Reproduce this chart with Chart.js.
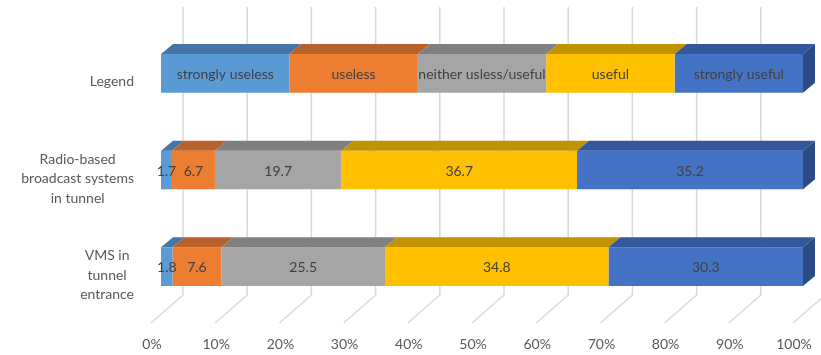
<!DOCTYPE html>
<html>
<head>
<meta charset="utf-8">
<script src="https://cdn.jsdelivr.net/npm/chart.js@4.4.1/dist/chart.umd.min.js"></script>
<style>
  html, body { margin: 0; padding: 0; background: #ffffff; }
  #wrap { width: 821px; height: 355px; position: relative; }
</style>
</head>
<body>
<div id="wrap"><canvas id="ratingChart"></canvas></div>
<script>
const categories = ["Legend", "Radio-based broadcast systems in tunnel", "VMS in tunnel entrance"];
const categoryLines = [
  ["Legend"],
  ["Radio-based", "broadcast systems", "in tunnel"],
  ["VMS in", "tunnel", "entrance"],
];
const seriesNames = ["strongly useless", "useless", "neither usless/useful", "useful", "strongly useful"];

// first row is the legend strip, equal parts
const stronglyUseless = [20, 1.7, 1.8];
const useless = [20, 6.7, 7.6];
const neither = [20, 19.7, 25.5];
const useful = [20, 36.7, 34.8];
const stronglyUseful = [20, 35.2, 30.3];

const tickValues = [0, 10, 20, 30, 40, 50, 60, 70, 80, 90, 100];

const frontColors = ["#5b9bd5", "#ed7d31", "#a5a5a5", "#ffc000", "#4472c4"];
const topColors = ["#4676a5", "#b9612a", "#808080", "#c29300", "#33579a"];
const sideColor = "#2c4a84";

const FONT = "Lato, 'Open Sans', sans-serif";
const DEPTH_X = 12;
const DEPTH_Y = 10;

function formatValue(value) {
  return value.toFixed(1);
}

// back wall, floor and category labels
const backdropPlugin = {
  id: "backdrop",
  beforeDatasetsDraw(chart) {
    const ctx = chart.ctx;
    const xScale = chart.scales.x;
    const area = chart.chartArea;
    ctx.save();
    ctx.strokeStyle = "#d9d9d9";
    ctx.lineWidth = 1.5;
    tickValues.forEach((value) => {
      const x = xScale.getPixelForValue(value);
      ctx.beginPath();
      ctx.moveTo(x + 22, area.top - 18);
      ctx.lineTo(x + 22, area.bottom - 20);
      ctx.lineTo(x - 10, area.bottom + 8);
      ctx.stroke();
    });

    const yScale = chart.scales.y;
    ctx.fillStyle = "#595959";
    ctx.font = `14px ${FONT}`;
    ctx.textAlign = "center";
    ctx.textBaseline = "middle";
    const rightEdge = 134;
    const lineHeight = 19.5;
    categoryLines.forEach((lines, index) => {
      const blockWidth = Math.max(...lines.map((line) => ctx.measureText(line).width));
      const centerX = rightEdge - blockWidth / 2;
      const centerY = yScale.getPixelForValue(index) + 8.5;
      const firstY = centerY - ((lines.length - 1) * lineHeight) / 2;
      lines.forEach((line, lineIndex) => {
        ctx.fillText(line, centerX, firstY + lineIndex * lineHeight);
      });
    });
    ctx.restore();
  },
  afterDatasetsDraw(chart) {
    const ctx = chart.ctx;
    const lastIndex = chart.data.datasets.length - 1;
    ctx.save();

    // top faces, drawn left to right so each one overlaps the previous
    chart.data.datasets.forEach((dataset, datasetIndex) => {
      const meta = chart.getDatasetMeta(datasetIndex);
      meta.data.forEach((bar) => {
        const left = Math.min(bar.base, bar.x);
        const right = Math.max(bar.base, bar.x);
        const top = bar.y - bar.height / 2;
        ctx.fillStyle = topColors[datasetIndex];
        ctx.beginPath();
        ctx.moveTo(left, top);
        ctx.lineTo(right, top);
        ctx.lineTo(right + DEPTH_X, top - DEPTH_Y);
        ctx.lineTo(left + DEPTH_X, top - DEPTH_Y);
        ctx.closePath();
        ctx.fill();

        if (datasetIndex === lastIndex) {
          const bottom = bar.y + bar.height / 2;
          ctx.fillStyle = sideColor;
          ctx.beginPath();
          ctx.moveTo(right, top);
          ctx.lineTo(right + DEPTH_X, top - DEPTH_Y);
          ctx.lineTo(right + DEPTH_X, bottom - DEPTH_Y);
          ctx.lineTo(right, bottom);
          ctx.closePath();
          ctx.fill();
        }
      });
    });

    // value labels in the middle of each segment
    ctx.fillStyle = "#404040";
    ctx.font = `14px ${FONT}`;
    ctx.textAlign = "center";
    ctx.textBaseline = "middle";
    chart.data.datasets.forEach((dataset, datasetIndex) => {
      const meta = chart.getDatasetMeta(datasetIndex);
      meta.data.forEach((bar, rowIndex) => {
        const text = rowIndex === 0 ? seriesNames[datasetIndex] : formatValue(dataset.data[rowIndex]);
        ctx.fillText(text, (bar.base + bar.x) / 2, bar.y + 1);
      });
    });
    ctx.restore();
  },
};

function buildDatasets() {
  const values = [stronglyUseless, useless, neither, useful, stronglyUseful];
  return values.map((data, index) => ({
    label: seriesNames[index],
    data,
    backgroundColor: frontColors[index],
    borderWidth: 0,
    categoryPercentage: 1,
    barPercentage: 0.4,
  }));
}

const chart = new Chart(document.getElementById("ratingChart"), {
  type: "bar",
  data: {
    labels: categories,
    datasets: buildDatasets(),
  },
  options: {
    indexAxis: "y",
    responsive: true,
    maintainAspectRatio: false,
    animation: false,
    layout: {
      padding: { left: 161, right: 18, top: 25, bottom: 0 },
    },
    plugins: {
      legend: { display: false },
      tooltip: { enabled: false },
    },
    scales: {
      x: {
        stacked: true,
        min: 0,
        max: 100,
        afterBuildTicks(axis) {
          axis.ticks = tickValues.map((value) => ({ value }));
        },
        afterFit(axis) {
          axis.height = 40;
          axis.paddingLeft = 0;
          axis.paddingRight = 0;
        },
        grid: { display: false, drawTicks: false },
        border: { display: false },
        ticks: {
          padding: 21,
          labelOffset: -9,
          color: "#595959",
          font: { family: FONT, size: 14 },
          maxRotation: 0,
          callback: (value) => `${value}%`,
        },
      },
      y: {
        stacked: true,
        display: false,
      },
    },
  },
  plugins: [backdropPlugin],
});
</script>
</body>
</html>
